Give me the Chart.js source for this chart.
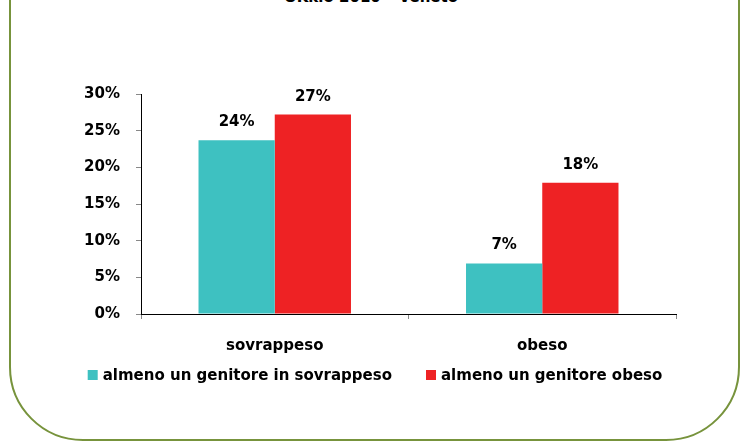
<!DOCTYPE html>
<html>
<head>
<meta charset="utf-8">
<script src="https://cdn.jsdelivr.net/npm/chart.js@4/dist/chart.umd.min.js"></script>
<style>
  html, body { margin: 0; padding: 0; background: #fff; overflow: hidden; }
  #wrap { position: relative; width: 742px; height: 441px; overflow: hidden; }
  #frame { position: absolute; left: 9px; top: -80px; width: 731px; height: 521px;
           box-sizing: border-box; border: 2px solid #77933C; border-radius: 74px; }
  #title { position: absolute; left: 0; width: 742px; top: -12px; text-align: center;
           font: bold 15px "DejaVu Sans", sans-serif; line-height: 18px; color: #000; }
  canvas { position: absolute; left: 0; top: 0; }
</style>
</head>
<body>
<div id="wrap">
  <div id="frame"></div>
  <div id="title">OKkio 2010 – Veneto</div>
  <canvas id="c" width="742" height="441"></canvas>
</div>
<script>
const categories = ["sovrappeso", "obeso"];
const seriesNames = ["almeno un genitore in sovrappeso", "almeno un genitore obeso"];
const parentOverweight = [23.7, 6.9];
const parentObese = [27.2, 17.9];
const yTicks = [0, 5, 10, 15, 20, 25, 30];

const FONT = '"DejaVu Sans", sans-serif';

const valueLabels = {
  id: 'valueLabels',
  afterDatasetsDraw(chart) {
    const ctx = chart.ctx;
    ctx.save();
    ctx.font = 'bold 15px ' + FONT;
    ctx.fillStyle = '#000';
    ctx.textAlign = 'center';
    ctx.textBaseline = 'alphabetic';
    chart.data.datasets.forEach((ds, i) => {
      chart.getDatasetMeta(i).data.forEach((el, j) => {
        ctx.fillText(Math.round(ds.data[j]) + '%', el.x, el.y - 14);
      });
    });
    ctx.restore();
  }
};

// legend drawn from the datasets (label + colour), single row centred under the chart
const rowLegend = {
  id: 'rowLegend',
  afterDraw(chart) {
    const ctx = chart.ctx;
    const centerX = 375, centerY = 375, box = 10, boxGap = 5, itemGap = 34;
    ctx.save();
    ctx.font = 'bold 15px ' + FONT;
    ctx.textBaseline = 'middle';
    ctx.textAlign = 'left';
    const items = chart.data.datasets.map(ds => ({
      text: ds.label, color: ds.backgroundColor, w: ctx.measureText(ds.label).width
    }));
    let total = 0;
    items.forEach((it, i) => { total += box + boxGap + it.w + (i ? itemGap : 0); });
    let x = centerX - total / 2;
    items.forEach((it, i) => {
      if (i) x += itemGap;
      ctx.fillStyle = it.color;
      ctx.fillRect(x, centerY - box / 2, box, box);
      x += box + boxGap;
      ctx.fillStyle = '#000';
      ctx.fillText(it.text, x, centerY + 1);
      x += it.w;
    });
    ctx.restore();
  }
};

new Chart(document.getElementById('c'), {
  type: 'bar',
  data: {
    labels: categories,
    datasets: [
      { label: seriesNames[0], data: parentOverweight, backgroundColor: '#3EC1C1',
        categoryPercentage: 0.57, barPercentage: 1.0 },
      { label: seriesNames[1], data: parentObese, backgroundColor: '#EE2224',
        categoryPercentage: 0.57, barPercentage: 1.0 }
    ]
  },
  options: {
    responsive: false,
    animation: false,
    devicePixelRatio: 1,
    layout: { padding: { left: 81, right: 66, top: 94, bottom: 82 } },
    plugins: {
      legend: { display: false },
      tooltip: { enabled: false },
      title: { display: false }
    },
    scales: {
      x: {
        afterFit(s) { s.height = 45; },
        border: { color: '#000', width: 1 },
        grid: { drawOnChartArea: false, drawTicks: true, tickLength: 5, color: '#888', offset: true },
        ticks: { color: '#000', padding: 18, font: { family: FONT, size: 15, weight: 'bold' } }
      },
      y: {
        min: 0, max: 30,
        afterFit(s) { s.width = 60; },
        afterBuildTicks(s) { s.ticks = yTicks.map(v => ({ value: v })); },
        border: { color: '#000', width: 1 },
        grid: { drawOnChartArea: false, drawTicks: true, tickLength: 5, color: '#888' },
        ticks: { color: '#000', padding: 16, callback: v => v + '%',
                 font: { family: FONT, size: 15, weight: 'bold' } }
      }
    }
  },
  plugins: [valueLabels, rowLegend]
});
</script>
</body>
</html>
